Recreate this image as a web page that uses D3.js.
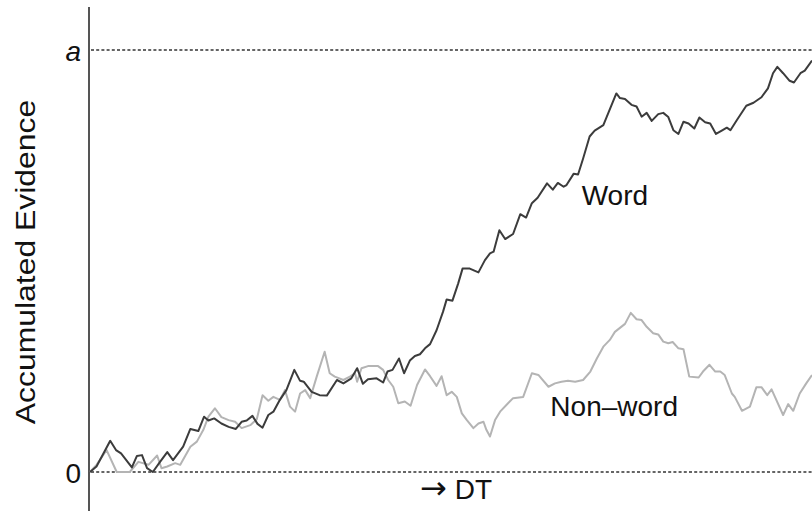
<!DOCTYPE html>
<html lang="en">
<head>
<meta charset="UTF-8">
<title>Accumulated Evidence</title>
<style>
  body { margin: 0; background: #fff; }
  svg text { font-family: "Liberation Sans", Arial, Helvetica, sans-serif; fill: #111; }
  .bound { stroke: #333; stroke-width: 1.4; stroke-dasharray: 3,2.2; fill: none; }
  .spine { stroke: #555; stroke-width: 2; }
  .word { fill: none; stroke: #3c3c3c; stroke-width: 2; stroke-linejoin: round; }
  .nonword { fill: none; stroke: #b4b4b4; stroke-width: 2; stroke-linejoin: round; }
</style>
</head>
<body>
<div id="chart"></div>
<script src="https://cdn.jsdelivr.net/npm/d3@7"></script>
<script>
// time as % of the window shown, evidence as % of the boundary a
var wordT = [0,0.9,2.8,3.6,4.3,5.8,6.5,7.2,7.9,8.7,9.7,10.7,11.5,12.9,13.9,15.0,15.8,16.4,17.2,18.2,19.2,20.2,21.0,21.7,22.5,23.2,23.9,24.7,25.4,26.3,27.2,28.3,29.1,29.6,30.7,31.8,32.8,34.2,35.1,36.2,37.0,37.8,38.5,39.7,40.6,41.2,41.9,42.8,43.5,44.3,45.0,45.7,46.4,47.1,48.0,48.9,49.4,50.2,51.0,51.6,52.6,53.8,54.7,55.4,55.9,56.7,57.5,58.6,59.6,60.4,61.2,62.0,63.3,64.1,64.8,65.6,66.0,67.0,67.6,68.3,69.2,69.9,71.1,72.9,73.4,74.1,75.0,75.7,76.4,77.1,77.8,78.7,79.4,80.1,80.8,81.5,82.2,82.9,83.7,84.4,85.2,85.9,86.7,87.5,88.2,88.7,89.6,90.9,91.9,93.0,93.9,94.6,95.2,96.0,96.9,97.5,98.4,99.0,100];
var wordV = [0,1.3,7.4,5.2,4.4,1.1,3.8,4.0,0.9,0,2.4,4.7,2.8,6.0,10.2,9.7,13.1,12.2,12.7,11.5,10.7,10.2,11.9,12.2,13.3,11.4,10.5,13.5,14.3,17.1,19.4,24.2,21.6,21.4,19.0,18.2,18.1,21.8,21.0,22.2,24.6,20.9,22.0,22.2,21.2,23.8,24.2,26.9,23.4,26.4,27.5,27.9,29.3,30.3,33.6,38.0,40.9,40.6,44.7,48.2,48.2,47.3,50.2,51.8,52.2,57.3,55.2,56.4,61.1,60.3,63.7,65.0,68.4,66.9,68.5,67.6,68.0,70.7,70.5,74.3,79.5,80.9,82.2,89.7,88.6,88.4,87.0,86.6,84.2,85.1,83.2,84.8,85.1,84.1,81.0,80.1,83.0,82.6,81.4,84.0,82.9,82.6,80.1,80.9,81.6,81.0,83.4,86.8,87.5,88.8,90.9,94.5,96.0,94.5,92.7,92.3,94.5,95.1,97.5];

var nonwordT = [0,0.9,2.3,3.7,5.5,6.7,8.1,9.3,9.9,10.7,11.8,12.5,13.9,14.8,15.7,16.4,17.3,18.2,19.2,20.1,21.0,22.2,23.1,23.9,24.7,25.4,26.3,27.0,27.7,28.4,29.1,29.8,30.5,31.4,32.5,33.2,33.9,35.1,36.0,36.7,37.0,37.6,38.5,39.9,40.6,41.3,42.0,42.7,43.6,44.4,45.3,46.4,47.1,48.0,48.7,49.4,50.1,50.8,51.5,52.2,53.1,53.8,54.5,54.9,55.4,56.1,56.8,57.9,58.6,60.0,61.2,62.1,63.5,64.4,65.3,66.2,67.2,68.3,69.3,70.2,71.1,72.0,72.7,74.1,74.9,75.7,76.4,77.1,78.0,78.7,79.4,80.1,80.7,81.5,82.2,83.0,84.3,84.9,85.8,86.6,87.3,87.9,88.9,89.3,90.3,91.4,92.3,93.0,93.8,94.4,96.0,96.7,97.4,98.3,99.2,100];
var nonwordV = [0,1.7,5.2,0,0,2.4,1.7,3.9,0.9,1.3,2.1,1.7,6.0,7.2,10.0,13.1,15.1,13.0,12.3,11.9,10.4,11.1,12.5,18.2,16.9,17.8,17.1,19.4,15.5,14.3,18.6,19.4,17.5,22.6,28.5,23.4,22.6,21.8,22.6,23.4,21.4,24.6,25.1,25.1,24.2,21.8,20.2,16.3,16.7,15.7,20.6,24.3,22.7,20.4,22.7,18.2,19.0,17.8,13.9,12.3,10.4,11.5,11.9,10.0,8.4,12.3,14.3,16.3,17.5,17.8,23.4,23.0,20.2,21.0,21.4,21.6,21.4,21.8,23.8,26.9,29.7,31.3,33.2,35.1,37.7,36.2,36.0,34.4,32.9,32.6,30.9,30.5,30.8,29.3,29.1,22.6,22.4,23.8,25.4,23.8,23.8,23.0,18.6,17.8,14.5,15.5,20.1,20.1,18.2,19.6,13.5,16.1,14.5,18.6,21.0,23.0];

var boundValues = [0, 100];
var boundLabels = ["0", "a"];
var seriesLabels = ["Word", "Non\u2013word"];

var W = 812, H = 511;
var margin = { top: 50, right: 0, bottom: 39, left: 90 };

var svg = d3.select("#chart").append("svg")
  .attr("width", W)
  .attr("height", H);

var x = d3.scaleLinear().domain([0, 100]).range([margin.left, W - margin.right]);
var y = d3.scaleLinear().domain([0, 100]).range([H - margin.bottom, margin.top]);

// dashed boundaries at 0 and a
svg.selectAll(".bound")
  .data(boundValues)
  .enter().append("line")
  .attr("class", "bound")
  .attr("x1", x(0) + 1)
  .attr("x2", W)
  .attr("y1", function (d) { return y(d); })
  .attr("y2", function (d) { return y(d); });

// left axis: only the 0 and a labels
var yAxis = svg.append("g")
  .attr("transform", "translate(" + (margin.left - 1) + ",0)")
  .call(d3.axisLeft(y)
    .tickValues(boundValues)
    .tickSize(0)
    .tickPadding(8)
    .tickFormat(function (d, i) { return boundLabels[i]; }));
yAxis.select(".domain").remove();
yAxis.selectAll("text")
  .attr("font-size", 28)
  .attr("dy", "0.36em")
  .attr("font-style", function (d, i) { return i === 1 ? "italic" : "normal"; })
  .style("font-family", "'Liberation Sans', Arial, sans-serif")
  .attr("fill", "#111");

svg.append("line")
  .attr("class", "spine")
  .attr("x1", margin.left - 1).attr("x2", margin.left - 1)
  .attr("y1", 7).attr("y2", H);

var line = d3.line()
  .x(function (d) { return x(d[0]); })
  .y(function (d) { return y(d[1]); });

svg.append("path")
  .datum(d3.zip(nonwordT, nonwordV))
  .attr("class", "nonword")
  .attr("d", line);

svg.append("path")
  .datum(d3.zip(wordT, wordV))
  .attr("class", "word")
  .attr("d", line);

// series labels
svg.append("text")
  .attr("x", x(72.7))
  .attr("y", y(63.3))
  .attr("font-size", 28)
  .attr("text-anchor", "middle")
  .text(seriesLabels[0]);

svg.append("text")
  .attr("x", x(72.6))
  .attr("y", y(13.3))
  .attr("font-size", 28)
  .attr("text-anchor", "middle")
  .text(seriesLabels[1]);

// axis titles
var dt = svg.append("text")
  .attr("x", x(50.7))
  .attr("y", 499)
  .attr("font-size", 28)
  .attr("text-anchor", "middle");
dt.append("tspan")
  .style("font-family", "'DejaVu Sans', sans-serif")
  .attr("font-size", 32)
  .text("\u2192");
dt.append("tspan").text(" DT");

svg.append("text")
  .attr("transform", "translate(35,262) rotate(-90) scale(1.14,1)")
  .attr("font-size", 28)
  .attr("text-anchor", "middle")
  .text("Accumulated Evidence");
</script>
</body>
</html>
